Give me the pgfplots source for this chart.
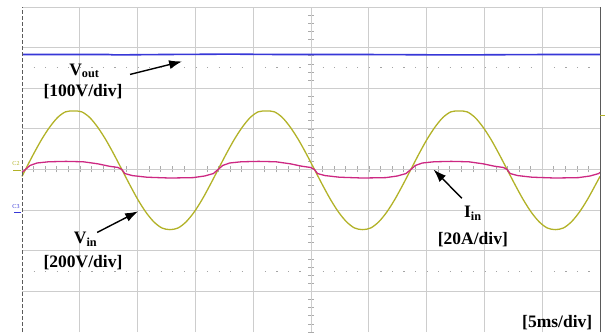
\documentclass[border=0pt]{standalone}
\usepackage{fontspec}
\setmainfont{Liberation Serif}
\usepackage{pgfplots}
\pgfplotsset{compat=1.18}
\usetikzlibrary{arrows.meta}
\definecolor{vin}{RGB}{178,178,40}
\definecolor{iin}{RGB}{205,40,130}
\definecolor{vout}{RGB}{55,55,215}
\definecolor{gridgray}{RGB}{205,205,205}
\definecolor{centergray}{RGB}{170,170,170}
\definecolor{bordergray}{RGB}{90,90,90}
\begin{document}
\begin{tikzpicture}
\useasboundingbox (0,0) rectangle (607pt,332pt);
% dotted reference lines
\draw[gridgray!80!black, line width=0.8pt, dash pattern=on 1.2pt off 10.36pt] (22pt,264.1pt) -- (600pt,264.1pt);
\draw[gridgray!80!black, line width=0.8pt, dash pattern=on 1.2pt off 10.36pt] (22pt,60.9pt) -- (600pt,60.9pt);
% centre ticks
\foreach \i in {0,...,50} \draw[centergray, line width=0.6pt] ({22pt+\i*11.56pt},159.5pt) -- ++(0,6pt);
\foreach \j in {0,...,40} \draw[centergray, line width=0.6pt] (308pt,{\j*8.125pt}) -- ++(6pt,0);
\draw[centergray, line width=0.8pt] (22pt,162.5pt) -- (600pt,162.5pt);
\draw[centergray, line width=0.8pt] (311pt,0pt) -- (311pt,325pt);
\begin{axis}[at={(22pt,0pt)}, anchor=south west, scale only axis,
  width=578pt, height=325pt,
  xmin=0, xmax=10, ymin=-4, ymax=4,
  xtick={1,...,9}, ytick={-3,...,3},
  xticklabels={}, yticklabels={},
  major tick length=0pt,
  grid=major, grid style={draw=gridgray, line width=0.8pt},
  axis line style={draw=none},
  clip=false]
% Vout
\addplot[vout, line width=1.6pt] coordinates {(0,2.83) (1.5,2.83) (1.6,2.82) (2.4,2.83) (3.6,2.84) (4.5,2.83) (6.0,2.83) (7.5,2.82) (9.0,2.83) (10,2.83)};
% Vin
\addplot[vin, line width=1.3pt, smooth] coordinates {
(0,-0.17) (0.060,0) (0.199,0.38) (0.338,0.735) (0.477,1.04) (0.616,1.28) (0.754,1.42) (0.893,1.44) (1.032,1.42) (1.171,1.28) (1.310,1.04) (1.449,0.735) (1.588,0.38)
(1.727,0) (1.866,-0.38) (2.004,-0.74) (2.143,-1.05) (2.282,-1.29) (2.421,-1.44) (2.560,-1.48) (2.699,-1.44) (2.838,-1.29) (2.977,-1.05) (3.116,-0.74) (3.254,-0.38)
(3.393,0) (3.532,0.38) (3.671,0.735) (3.810,1.04) (3.949,1.28) (4.088,1.42) (4.227,1.44) (4.366,1.42) (4.504,1.28) (4.643,1.04) (4.782,0.735) (4.921,0.38)
(5.060,0) (5.199,-0.38) (5.338,-0.74) (5.477,-1.05) (5.616,-1.29) (5.754,-1.44) (5.893,-1.48) (6.032,-1.44) (6.171,-1.29) (6.310,-1.05) (6.449,-0.74) (6.588,-0.38)
(6.727,0) (6.866,0.38) (7.004,0.735) (7.143,1.04) (7.282,1.28) (7.421,1.42) (7.560,1.44) (7.699,1.42) (7.838,1.28) (7.977,1.04) (8.116,0.735) (8.254,0.38)
(8.393,0) (8.532,-0.38) (8.671,-0.74) (8.810,-1.05) (8.949,-1.29) (9.088,-1.44) (9.227,-1.48) (9.366,-1.44) (9.504,-1.29) (9.643,-1.05) (9.782,-0.74) (9.921,-0.38) (10,-0.17)};
% Iin
\addplot[iin, line width=1.3pt] coordinates {
(0,-0.07) (0.06,0) (0.14,0.10) (0.26,0.16) (0.46,0.19) (0.76,0.20) (1.06,0.19) (1.31,0.14) (1.51,0.08) (1.66,0.05)
(1.727,0) (1.78,-0.10) (1.91,-0.15) (2.16,-0.19) (2.56,-0.21) (2.96,-0.20) (3.16,-0.16) (3.31,-0.10)
(3.393,0) (3.473,0.10) (3.593,0.16) (3.793,0.19) (4.093,0.20) (4.393,0.19) (4.643,0.14) (4.843,0.08) (4.993,0.05)
(5.06,0) (5.113,-0.10) (5.243,-0.15) (5.493,-0.19) (5.893,-0.21) (6.293,-0.20) (6.493,-0.16) (6.643,-0.10)
(6.727,0) (6.807,0.10) (6.927,0.16) (7.127,0.19) (7.427,0.20) (7.727,0.19) (7.977,0.14) (8.177,0.08) (8.327,0.05)
(8.393,0) (8.447,-0.10) (8.577,-0.15) (8.827,-0.19) (9.227,-0.21) (9.627,-0.20) (9.827,-0.16) (9.977,-0.10) (10,-0.07)};
% annotations
\node[font=\bfseries\fontsize{17.5}{20}\selectfont, inner sep=0pt] at (axis cs:1.08,2.43) {V\textsubscript{out}};
\node[font=\bfseries\fontsize{17.5}{20}\selectfont, inner sep=0pt] at (axis cs:1.055,1.92) {[100V/div]};
\draw[-{Latex[length=13pt,width=9pt]}, line width=1.4pt] (axis cs:1.87,2.34) -- (axis cs:2.77,2.66);
\node[font=\bfseries\fontsize{17.5}{20}\selectfont, inner sep=0pt] at (axis cs:1.10,-1.72) {V\textsubscript{in}};
\node[font=\bfseries\fontsize{17.5}{20}\selectfont, inner sep=0pt] at (axis cs:1.055,-2.29) {[200V/div]};
\draw[-{Latex[length=13pt,width=9pt]}, line width=1.4pt] (axis cs:1.30,-1.55) -- (axis cs:2.01,-1.03);
\node[font=\bfseries\fontsize{17.5}{20}\selectfont, inner sep=0pt] at (axis cs:7.80,-1.08) {I\textsubscript{in}};
\node[font=\bfseries\fontsize{17.5}{20}\selectfont, inner sep=0pt] at (axis cs:7.80,-1.72) {[20A/div]};
\draw[-{Latex[length=13pt,width=9pt]}, line width=1.4pt] (axis cs:7.61,-0.71) -- (axis cs:7.12,0.0);
\node[font=\bfseries\fontsize{17.5}{20}\selectfont, inner sep=0pt] at (axis cs:9.26,-3.77) {[5ms/div]};
\end{axis}
% borders
\draw[gridgray, line width=0.8pt] (22pt,325pt) -- (600pt,325pt);
\draw[bordergray, line width=0.9pt, dash pattern=on 4pt off 2pt] (22pt,0pt) -- (22pt,325pt);
\draw[bordergray, line width=0.9pt] (600pt,0pt) -- (600pt,325pt);
% channel markers
\node[vin, font=\fontsize{6}{6}\selectfont, inner sep=0pt] at (16pt,168pt) {C2};
\draw[vin, line width=1pt] (13pt,161pt) -- (21pt,161pt);
\node[vout, font=\fontsize{6}{6}\selectfont, inner sep=0pt] at (16pt,125pt) {C3};
\draw[vout, line width=1pt] (14pt,119pt) -- (21pt,119pt);
\draw[vin, line width=1pt] (600pt,216pt) -- (605pt,216pt);
\end{tikzpicture}
\end{document}
